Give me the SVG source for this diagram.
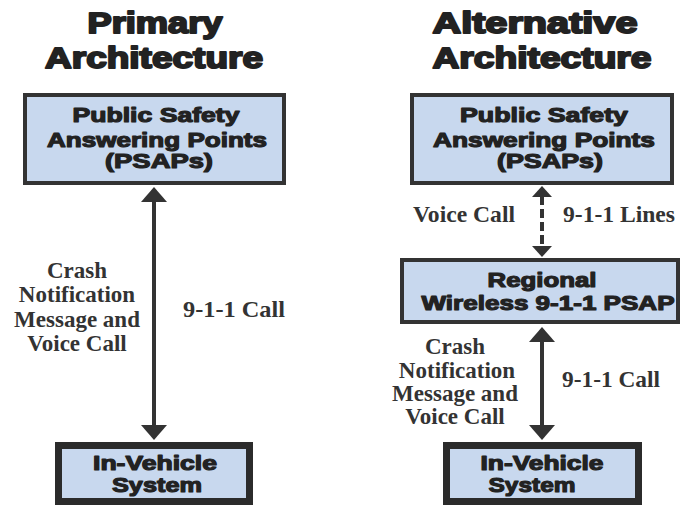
<svg xmlns="http://www.w3.org/2000/svg" width="681" height="505" viewBox="0 0 681 505">
<style>
.bg{fill:#ffffff}
.box{fill:#c8d8ee;stroke:#333333;stroke-width:4}
.boxv{fill:#c8d8ee;stroke:#2b2b2b;stroke-width:7}
.title{font-family:"Liberation Sans",Arial,sans-serif;font-weight:bold;font-size:30px;fill:#222;stroke:#222;stroke-width:2;stroke-linejoin:round;text-anchor:middle}
.bt{font-family:"Liberation Sans",Arial,sans-serif;font-weight:bold;font-size:21px;fill:#222;stroke:#222;stroke-width:1.2;stroke-linejoin:round;text-anchor:middle}
.lbl{font-family:"Liberation Serif","Times New Roman",serif;font-weight:bold;font-size:23px;fill:#333;text-anchor:middle}
.lbs{font-family:"Liberation Serif","Times New Roman",serif;font-weight:bold;font-size:23px;fill:#333}
.conn{stroke:#333;stroke-width:4;fill:none}
.dash{stroke:#333;stroke-width:4;fill:none;stroke-dasharray:9 4}
</style>
<defs>
<marker id="ah" viewBox="0 0 15 26" markerWidth="15" markerHeight="26" refX="1" refY="13" orient="auto-start-reverse" markerUnits="userSpaceOnUse">
<path d="M0,0 L15,13 L0,26 z" fill="#333"/>
</marker>
<marker id="ahs" viewBox="0 0 11 20" markerWidth="11" markerHeight="20" refX="1" refY="10" orient="auto-start-reverse" markerUnits="userSpaceOnUse">
<path d="M0,0 L11,10 L0,20 z" fill="#333"/>
</marker>
</defs>
<rect class="bg" x="0" y="0" width="681" height="505"/>

<g id="titles">
<text class="title" x="155" y="33" textLength="135" lengthAdjust="spacingAndGlyphs">Primary</text>
<text class="title" x="154" y="68" textLength="218" lengthAdjust="spacingAndGlyphs">Architecture</text>
<text class="title" x="535" y="33" textLength="205" lengthAdjust="spacingAndGlyphs">Alternative</text>
<text class="title" x="542" y="68" textLength="219" lengthAdjust="spacingAndGlyphs">Architecture</text>
</g>

<g id="connectors">
<line class="conn" x1="154" y1="201" x2="154" y2="426" marker-start="url(#ah)" marker-end="url(#ah)"/>
<line class="dash" x1="542" y1="196" x2="542" y2="247" marker-start="url(#ahs)" marker-end="url(#ahs)"/>
<line class="conn" x1="542" y1="341" x2="542" y2="426" marker-start="url(#ah)" marker-end="url(#ah)"/>
</g>

<g id="psap-left">
<rect class="box" x="25" y="95" width="259" height="88"/>
<text class="bt" x="156" y="122" textLength="167" lengthAdjust="spacingAndGlyphs">Public Safety</text>
<text class="bt" x="157" y="147" textLength="220" lengthAdjust="spacingAndGlyphs">Answering Points</text>
<text class="bt" x="159" y="168" textLength="108" lengthAdjust="spacingAndGlyphs">(PSAPs)</text>
</g>

<g id="vehicle-left">
<rect class="boxv" x="58.5" y="445.5" width="191" height="56"/>
<text class="bt" x="155" y="470" textLength="124" lengthAdjust="spacingAndGlyphs">In-Vehicle</text>
<text class="bt" x="157" y="492" textLength="90" lengthAdjust="spacingAndGlyphs">System</text>
</g>

<g id="labels-left">
<text class="lbl" x="77" y="278">Crash</text>
<text class="lbl" x="77" y="302">Notification</text>
<text class="lbl" x="77" y="327">Message and</text>
<text class="lbl" x="77" y="351">Voice Call</text>
<text class="lbs" x="183" y="317" textLength="102" lengthAdjust="spacingAndGlyphs">9-1-1 Call</text>
</g>

<g id="psap-right">
<rect class="box" x="412" y="95" width="260" height="88"/>
<text class="bt" x="544" y="122" textLength="168" lengthAdjust="spacingAndGlyphs">Public Safety</text>
<text class="bt" x="544" y="147" textLength="222" lengthAdjust="spacingAndGlyphs">Answering Points</text>
<text class="bt" x="550" y="168" textLength="106" lengthAdjust="spacingAndGlyphs">(PSAPs)</text>
</g>

<g id="labels-dashed">
<text class="lbs" x="413" y="222" textLength="102" lengthAdjust="spacingAndGlyphs">Voice Call</text>
<text class="lbs" x="563" y="222" textLength="112" lengthAdjust="spacingAndGlyphs">9-1-1 Lines</text>
</g>

<g id="regional">
<rect class="box" x="402" y="260" width="276" height="62"/>
<text class="bt" x="542" y="287" textLength="109" lengthAdjust="spacingAndGlyphs">Regional</text>
<text class="bt" x="548" y="310" textLength="253" lengthAdjust="spacingAndGlyphs">Wireless 9-1-1 PSAP</text>
</g>

<g id="labels-right">
<text class="lbl" x="455" y="354">Crash</text>
<text class="lbl" x="457" y="378">Notification</text>
<text class="lbl" x="455" y="401">Message and</text>
<text class="lbl" x="455" y="424">Voice Call</text>
<text class="lbs" x="562" y="387" textLength="98" lengthAdjust="spacingAndGlyphs">9-1-1 Call</text>
</g>

<g id="vehicle-right">
<rect class="boxv" x="446.5" y="445.5" width="192" height="56"/>
<text class="bt" x="542" y="470" textLength="123" lengthAdjust="spacingAndGlyphs">In-Vehicle</text>
<text class="bt" x="532" y="492" textLength="87" lengthAdjust="spacingAndGlyphs">System</text>
</g>
</svg>
